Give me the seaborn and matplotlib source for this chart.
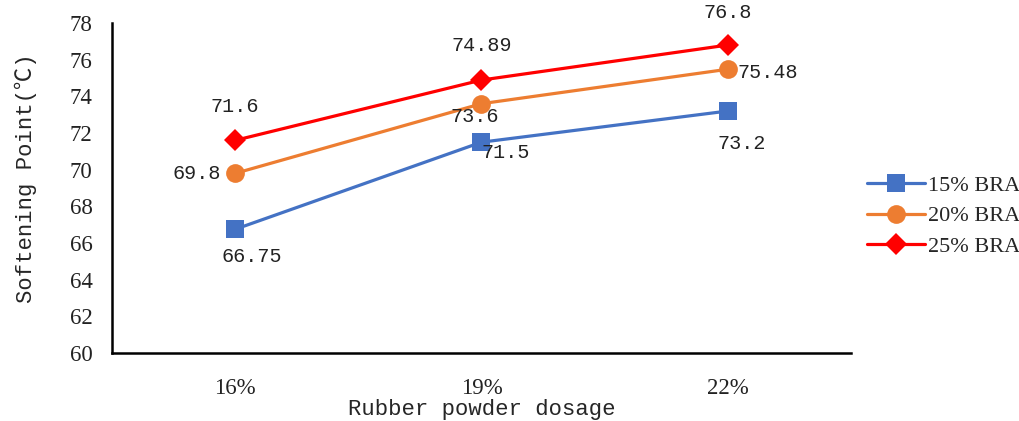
import matplotlib
matplotlib.use("Agg")
import matplotlib.pyplot as plt
import seaborn as sns
import pandas as pd

dosage = ["16%", "19%", "22%"]
series = ["15% BRA", "20% BRA", "25% BRA"]
bra15 = [66.75, 71.5, 73.2]
bra20 = [69.8, 73.6, 75.48]
bra25 = [71.6, 74.89, 76.8]
labels15 = ["66.75", "71.5", "73.2"]
labels20 = ["69.8", "73.6", "75.48"]
labels25 = ["71.6", "74.89", "76.8"]

sns.set_style("white")
plt.rcParams['font.family'] = ['Liberation Mono', 'Noto Sans CJK SC']

df = pd.DataFrame({
    "dosage": dosage * 3,
    "value": bra15 + bra20 + bra25,
    "series": [series[0]] * 3 + [series[1]] * 3 + [series[2]] * 3,
})

colors = {"15% BRA": "#4472C4", "20% BRA": "#ED7D31", "25% BRA": "#FF0000"}
markers = {"15% BRA": "s", "20% BRA": "o", "25% BRA": "D"}
msize = {"15% BRA": 13, "20% BRA": 13.5, "25% BRA": 11.5}

fig = plt.figure(figsize=(10.2, 4.21), dpi=100)
ax = fig.add_axes([0.1098, 0.1615, 0.7245, 0.7838])

for s in series:
    sub = df[df["series"] == s]
    sns.lineplot(data=sub, x="dosage", y="value", ax=ax, color=colors[s],
                 marker=markers[s], markersize=msize[s], linewidth=2.3,
                 markeredgewidth=0, label=s, sort=False)

# data labels, offsets in pixels (label centre relative to point)
off15 = [(17, -27), (24, -10), (14, -32)]
off20 = [(-38, 0), (-7, -13), (40, -3)]
off25 = [(0, 34), (0, 35), (0, 33)]
for vals, labs, offs in [(bra15, labels15, off15), (bra20, labels20, off20),
                         (bra25, labels25, off25)]:
    for i, v in enumerate(vals):
        ax.annotate(labs[i], (i, v), xytext=offs[i], textcoords="offset pixels",
                    ha="center", va="center", fontsize=14.5, color="#222222")

ax.set_xlim(-0.5, 2.5)
ax.set_ylim(60, 78)
ax.set_yticks(range(60, 79, 2))
for lab in ax.get_yticklabels() + ax.get_xticklabels():
    lab.set_fontfamily("Liberation Serif")
    lab.set_fontsize(16.5)
    lab.set_color("#222222")
ax.tick_params(axis="y", length=0, pad=14)
ax.tick_params(axis="x", length=0, pad=18)

for sp in ["top", "right"]:
    ax.spines[sp].set_visible(False)
for sp in ["left", "bottom"]:
    ax.spines[sp].set_color("black")
    ax.spines[sp].set_linewidth(1.8)

ax.set_ylabel("Softening Point(℃)", fontsize=16)
ax.yaxis.set_label_coords(-0.102, 0.53)
ax.set_xlabel("Rubber powder dosage", fontsize=16, labelpad=0)

leg = ax.legend(loc="center left", bbox_to_anchor=(0.995, 0.415), frameon=False,
                fontsize=16, handlelength=2.6, labelspacing=0.45, handletextpad=0.15)
for t in leg.get_texts():
    t.set_fontfamily("Liberation Serif")

fig.savefig("out.png", dpi=100)
